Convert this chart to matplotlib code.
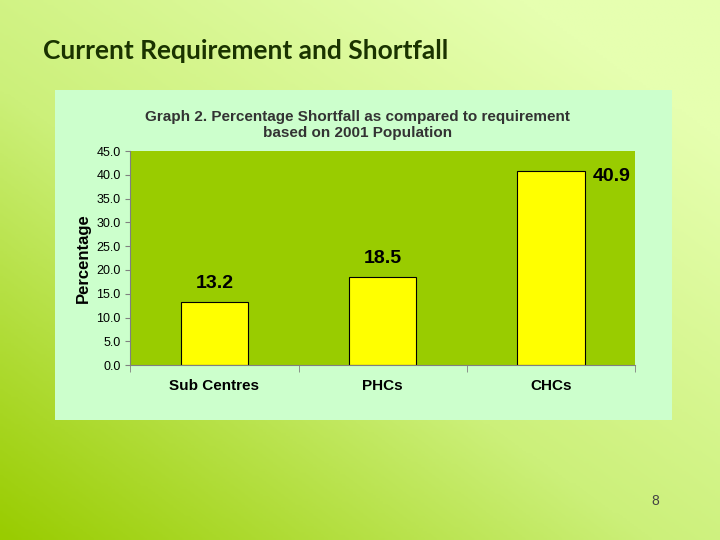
import numpy as np
import matplotlib.pyplot as plt
from matplotlib.colors import LinearSegmentedColormap

plt.rcParams['font.family'] = ['Liberation Sans', 'DejaVu Sans']

categories = ["Sub Centres", "PHCs", "CHCs"]
shortfall = [13.2, 18.5, 40.9]
yticks = [0, 5, 10, 15, 20, 25, 30, 35, 40, 45]

fig = plt.figure(figsize=(7.2, 5.4), dpi=100)

# slide background gradient
bg = fig.add_axes([0, 0, 1, 1])
xx, yy = np.meshgrid(np.linspace(0, 1, 200), np.linspace(0, 1, 200))
grad = np.clip(0.55 * xx + 0.6 * yy, 0, 1)
cmap = LinearSegmentedColormap.from_list("g", ["#99cc00", "#ccf07a", "#e6ffb0"])
bg.imshow(grad, cmap=cmap, origin="lower", extent=[0, 1, 0, 1], aspect="auto")
bg.axis("off")

fig.text(0.06, 0.89, "Current Requirement and Shortfall", fontsize=19,
         color="#1a3300", fontweight="bold", family="Lato")
fig.text(0.91, 0.065, "8", fontsize=10, color="#444444", ha="center")

# chart panel
panel = fig.add_axes([0.076, 0.222, 0.857, 0.611])
panel.set_facecolor("#ccffcc")
panel.set_xticks([])
panel.set_yticks([])
for s in panel.spines.values():
    s.set_visible(False)

ax = fig.add_axes([0.181, 0.324, 0.701, 0.396])
ax.set_facecolor("#99cc00")
x = np.arange(len(categories))
ax.bar(x, shortfall, width=0.4, color="#ffff00", edgecolor="black", linewidth=0.8)
ax.set_xlim(-0.5, 2.5)
ax.set_ylim(0, 45)
ax.set_yticks(yticks)
ax.set_yticklabels([f"{v:.1f}" for v in yticks], fontsize=9)
ax.set_xticks(x)
ax.set_xticklabels(categories, fontsize=11, fontweight="bold")
ax.set_xticks([-0.5, 0.5, 1.5, 2.5], minor=True)
ax.tick_params(axis="x", which="major", length=0, pad=10)
ax.tick_params(axis="x", which="minor", length=5, color="#808080")
ax.tick_params(axis="y", color="#808080")
ax.set_ylabel("Percentage", fontsize=12, fontweight="bold")
for s in ["top", "right"]:
    ax.spines[s].set_visible(False)
for s in ["left", "bottom"]:
    ax.spines[s].set_color("#808080")

ax.text(x[0], shortfall[0] + 2.2, f"{shortfall[0]}", ha="center", va="bottom",
        fontsize=14, fontweight="bold")
ax.text(x[1], shortfall[1] + 2.2, f"{shortfall[1]}", ha="center", va="bottom",
        fontsize=14, fontweight="bold")
ax.text(x[2] + 0.36, shortfall[2] - 1.2, f"{shortfall[2]}", ha="center", va="center",
        fontsize=14, fontweight="bold")

ax.set_title("Graph 2. Percentage Shortfall as compared to requirement\nbased on 2001 Population",
             fontsize=11, fontweight="bold", color="#333333", pad=10, x=0.45)

fig.savefig("out.png", dpi=100)
